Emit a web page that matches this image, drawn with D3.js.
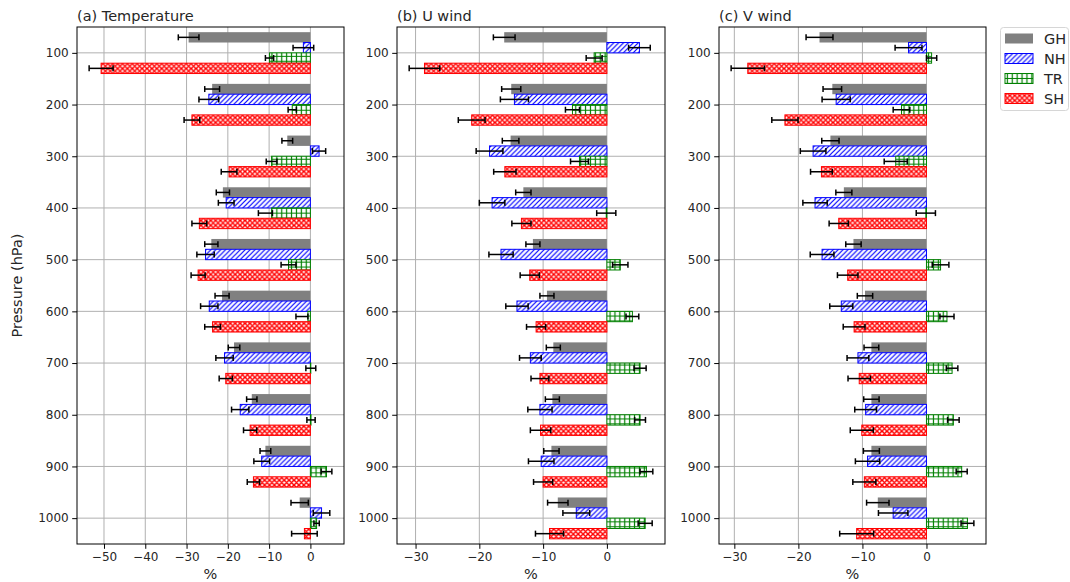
<!DOCTYPE html>
<html>
<head>
<meta charset="utf-8">
<script src="https://cdn.jsdelivr.net/npm/d3@7"></script>
<style>
  body { margin: 0; background: #fff; }
  svg { display: block; font-family: "DejaVu Sans", sans-serif; }
</style>
</head>
<body>
<svg id="chart" width="1070" height="582"></svg>
<script>
// Pressure levels (hPa) and series names
const levels = [100, 200, 300, 400, 500, 600, 700, 800, 900, 1000];
const seriesNames = ["GH", "NH", "TR", "SH"];

// Tick values
const xTicksTemp = [-50, -40, -30, -20, -10, 0];
const xTicksWind = [-30, -20, -10, 0];

// (a) Temperature: relative change (%) and error half-widths ([lower, upper] where asymmetric)
const tempGH = [-29.5, -23.8, -5.6, -21.2, -24.0, -21.4, -18.5, -14.2, -10.9, -2.6];
const tempGHErr = [2.5, 1.8, 1.3, 1.6, 1.6, 1.7, 1.4, 1.25, 1.3, 2.1];
const tempNH = [-1.7, -24.6, 2.1, -20.4, -25.4, -24.5, -20.8, -17.0, -11.8, 2.7];
const tempNHErr = [2.5, 2.4, 1.6, 1.9, 2.1, 2.1, 2.1, 2.1, 1.9, 2.0];
const tempTR = [-9.9, -4.4, -9.4, -9.4, -5.3, -0.6, 0.1, 0.15, 3.9, 1.5];
const tempTRErr = [1.0, 1.0, 1.3, [3.2, 0.2], 1.8, [2.9, 0.0], 1.2, 1.0, 1.3, 0.65];
const tempSH = [-50.7, -28.7, -19.7, -26.9, -27.2, -23.7, -20.5, -14.6, -13.8, -1.45];
const tempSHErr = [2.9, 1.9, 1.9, 1.8, 1.7, 1.9, 1.6, 1.6, 1.5, 3.1];

// (b) U wind
const uGH = [-16.1, -15.0, -15.1, -13.1, -11.6, -9.4, -8.4, -8.55, -8.7, -7.7];
const uGHErr = [1.7, 1.5, 1.3, 1.2, 1.1, 1.1, 1.1, 1.1, 1.2, 1.6];
const uNH = [5.1, -14.5, -18.4, -18.0, -16.6, -14.1, -12.0, -10.5, -10.3, -4.8];
const uNHErr = [1.7, 2.2, 2.1, 2.0, 1.9, 1.75, 1.7, 1.9, 2.0, 2.1];
const uTR = [-2.0, -5.4, -4.3, -0.1, 2.1, 4.0, 5.2, 5.2, 6.2, 6.0];
const uTRErr = [1.25, 1.1, 1.4, 1.5, 1.2, 1.0, 0.95, 0.85, 1.0, 1.1];
const uSH = [-28.6, -21.2, -16.0, -13.4, -12.1, -11.1, -10.5, -10.4, -10.0, -9.0];
const uSHErr = [2.4, 2.1, 1.75, 1.5, 1.5, 1.5, 1.4, 1.6, 1.5, 2.2];

// (c) V wind
const vGH = [-16.7, -14.7, -15.0, -12.9, -11.4, -9.6, -8.6, -8.6, -8.6, -7.6];
const vGHErr = [2.1, 1.45, 1.35, 1.25, 1.2, 1.2, 1.15, 1.2, 1.25, 1.75];
const vNH = [-2.8, -14.1, -17.7, -17.4, -16.3, -13.3, -10.7, -9.5, -9.2, -5.2];
const vNHErr = [2.1, 2.2, 2.0, 1.9, 1.85, 1.8, 1.7, 1.7, 1.9, 2.3];
const vTR = [0.8, -3.9, -4.8, -0.1, 2.2, 3.2, 4.0, 4.2, 5.5, 6.4];
const vTRErr = [0.8, 1.3, 1.8, 1.5, 1.3, 1.1, 0.9, 0.9, 0.86, 1.0];
const vSH = [-27.9, -22.1, -16.4, -13.7, -12.3, -11.3, -10.5, -10.1, -9.7, -10.9];
const vSHErr = [2.6, 2.05, 1.7, 1.5, 1.6, 1.7, 1.75, 1.8, 1.8, 2.65];

// ---- layout ----
const plotTop = 27, plotBottom = 544;
const panels = [
  { title: "(a) Temperature", left: 77, right: 344, ticks: xTicksTemp,
    values: [tempGH, tempNH, tempTR, tempSH], errs: [tempGHErr, tempNHErr, tempTRErr, tempSHErr] },
  { title: "(b) U wind", left: 397, right: 665, ticks: xTicksWind,
    values: [uGH, uNH, uTR, uSH], errs: [uGHErr, uNHErr, uTRErr, uSHErr] },
  { title: "(c) V wind", left: 719, right: 986, ticks: xTicksWind,
    values: [vGH, vNH, vTR, vSH], errs: [vGHErr, vNHErr, vTRErr, vSHErr] }
];

const barOffsets = [-30, -10, 10, 30];  // hPa offset of each series within a level group
const barThick = 20;                     // bar thickness in hPa
const textColor = "#262626";
const tickFont = 12, labelFont = 14.5;

const svg = d3.select("#chart");
svg.append("rect").attr("width", 1070).attr("height", 582).attr("fill", "#fff");
const defs = svg.append("defs");

// hatch patterns
const hs = 4.9;
function makePattern(id, color, kind, lw) {
  const p = defs.append("pattern").attr("id", id)
    .attr("patternUnits", "userSpaceOnUse").attr("width", hs).attr("height", hs);
  p.append("rect").attr("width", hs).attr("height", hs).attr("fill", "#fff");
  let d = "";
  if (kind === "/" || kind === "x") {
    d += `M-1,1 L1,-1 M0,${hs} L${hs},0 M${hs - 1},${hs + 1} L${hs + 1},${hs - 1} `;
  }
  if (kind === "x") {
    d += `M-1,${hs - 1} L1,${hs + 1} M0,0 L${hs},${hs} M${hs - 1},-1 L${hs + 1},1 `;
  }
  if (kind === "+") {
    d += `M0,${hs / 2} H${hs} M${hs / 2},0 V${hs}`;
  }
  p.append("path").attr("d", d).attr("stroke", color).attr("stroke-width", lw).attr("fill", "none");
}
makePattern("hatchNH", "#0000ff", "/", 1.2);
makePattern("hatchTR", "#008000", "+", 1.2);
makePattern("hatchSH", "#ff0000", "x", 1.45);

const fills = ["#808080", "url(#hatchNH)", "url(#hatchTR)", "url(#hatchSH)"];
const edges = ["none", "#0000ff", "#008000", "#ff0000"];

function errBounds(v, e) {
  return Array.isArray(e) ? [v - e[0], v + e[1]] : [v - e, v + e];
}

const y = d3.scaleLinear().domain([50, 1050]).range([plotTop, plotBottom]);

panels.forEach((pn) => {
  // x extent including bars from zero and error bars, with 5% padding
  let lo = 0, hi = 0;
  pn.values.forEach((vals, si) => vals.forEach((v, li) => {
    const b = errBounds(v, pn.errs[si][li]);
    lo = Math.min(lo, b[0], v); hi = Math.max(hi, b[1], v);
  }));
  const pad = (hi - lo) * 0.05;
  const x = d3.scaleLinear().domain([lo - pad, hi + pad]).range([pn.left, pn.right]);

  const g = svg.append("g");

  // grid
  g.append("g").selectAll("line").data(pn.ticks).join("line")
    .attr("x1", d => x(d)).attr("x2", d => x(d)).attr("y1", plotTop).attr("y2", plotBottom)
    .attr("stroke", "#b0b0b0").attr("stroke-width", 1);
  g.append("g").selectAll("line").data(levels).join("line")
    .attr("x1", pn.left).attr("x2", pn.right).attr("y1", d => y(d)).attr("y2", d => y(d))
    .attr("stroke", "#b0b0b0").attr("stroke-width", 1);

  // bars
  pn.values.forEach((vals, si) => {
    g.append("g").selectAll("rect").data(vals).join("rect")
      .attr("x", v => x(Math.min(0, v)))
      .attr("width", v => Math.abs(x(v) - x(0)))
      .attr("y", (v, li) => y(levels[li] + barOffsets[si] - barThick / 2))
      .attr("height", y(barThick) - y(0))
      .attr("fill", fills[si])
      .attr("stroke", edges[si])
      .attr("stroke-width", 1);
  });

  // error bars
  pn.values.forEach((vals, si) => {
    const eg = g.append("g").attr("stroke", "#000").attr("stroke-width", 1.5).attr("fill", "none");
    vals.forEach((v, li) => {
      const b = errBounds(v, pn.errs[si][li]);
      const yc = y(levels[li] + barOffsets[si]);
      eg.append("line").attr("x1", x(b[0])).attr("x2", x(b[1])).attr("y1", yc).attr("y2", yc);
      eg.append("line").attr("x1", x(b[0])).attr("x2", x(b[0])).attr("y1", yc - 3).attr("y2", yc + 3);
      eg.append("line").attr("x1", x(b[1])).attr("x2", x(b[1])).attr("y1", yc - 3).attr("y2", yc + 3);
    });
  });

  // spines
  g.append("rect").attr("x", pn.left).attr("y", plotTop)
    .attr("width", pn.right - pn.left).attr("height", plotBottom - plotTop)
    .attr("fill", "none").attr("stroke", "#000").attr("stroke-width", 1);

  // axes
  const xa = g.append("g").attr("transform", `translate(0,${plotBottom})`)
    .call(d3.axisBottom(x).tickValues(pn.ticks).tickFormat(d3.format("d")).tickSize(4.8).tickPadding(3.5));
  const ya = g.append("g").attr("transform", `translate(${pn.left},0)`)
    .call(d3.axisLeft(y).tickValues(levels).tickFormat(d3.format("d")).tickSize(4.8).tickPadding(3.5));
  [xa, ya].forEach(a => {
    a.select(".domain").remove();
    a.selectAll(".tick line").attr("stroke", "#000");
    a.selectAll(".tick text").attr("fill", textColor)
      .style("font-size", tickFont + "px").style("font-family", "DejaVu Sans");
  });

  // title and x label
  g.append("text").attr("x", pn.left).attr("y", 21).text(pn.title)
    .attr("fill", textColor).style("font-size", labelFont + "px");
  g.append("text").attr("x", (pn.left + pn.right) / 2).attr("y", 579)
    .attr("text-anchor", "middle").text("%")
    .attr("fill", textColor).style("font-size", labelFont + "px");
});

// y label
svg.append("text").attr("transform", `translate(22,${(plotTop + plotBottom) / 2}) rotate(-90)`)
  .attr("text-anchor", "middle").text("Pressure (hPa)")
  .attr("fill", textColor).style("font-size", labelFont + "px");

// legend
const lg = svg.append("g").attr("transform", "translate(1000,27)");
lg.append("rect").attr("x", 0.5).attr("y", 0.5).attr("width", 68).attr("height", 83).attr("rx", 3)
  .attr("fill", "#fff").attr("stroke", "#d6d6d6").attr("stroke-width", 1);
seriesNames.forEach((name, i) => {
  const yy = 6.5 + i * 20;
  lg.append("rect").attr("x", 5).attr("y", yy).attr("width", 28).attr("height", 10)
    .attr("fill", fills[i]).attr("stroke", edges[i]).attr("stroke-width", 1);
  lg.append("text").attr("x", 44).attr("y", yy + 10.5).text(name)
    .attr("fill", textColor).style("font-size", labelFont + "px");
});
</script>
</body>
</html>
